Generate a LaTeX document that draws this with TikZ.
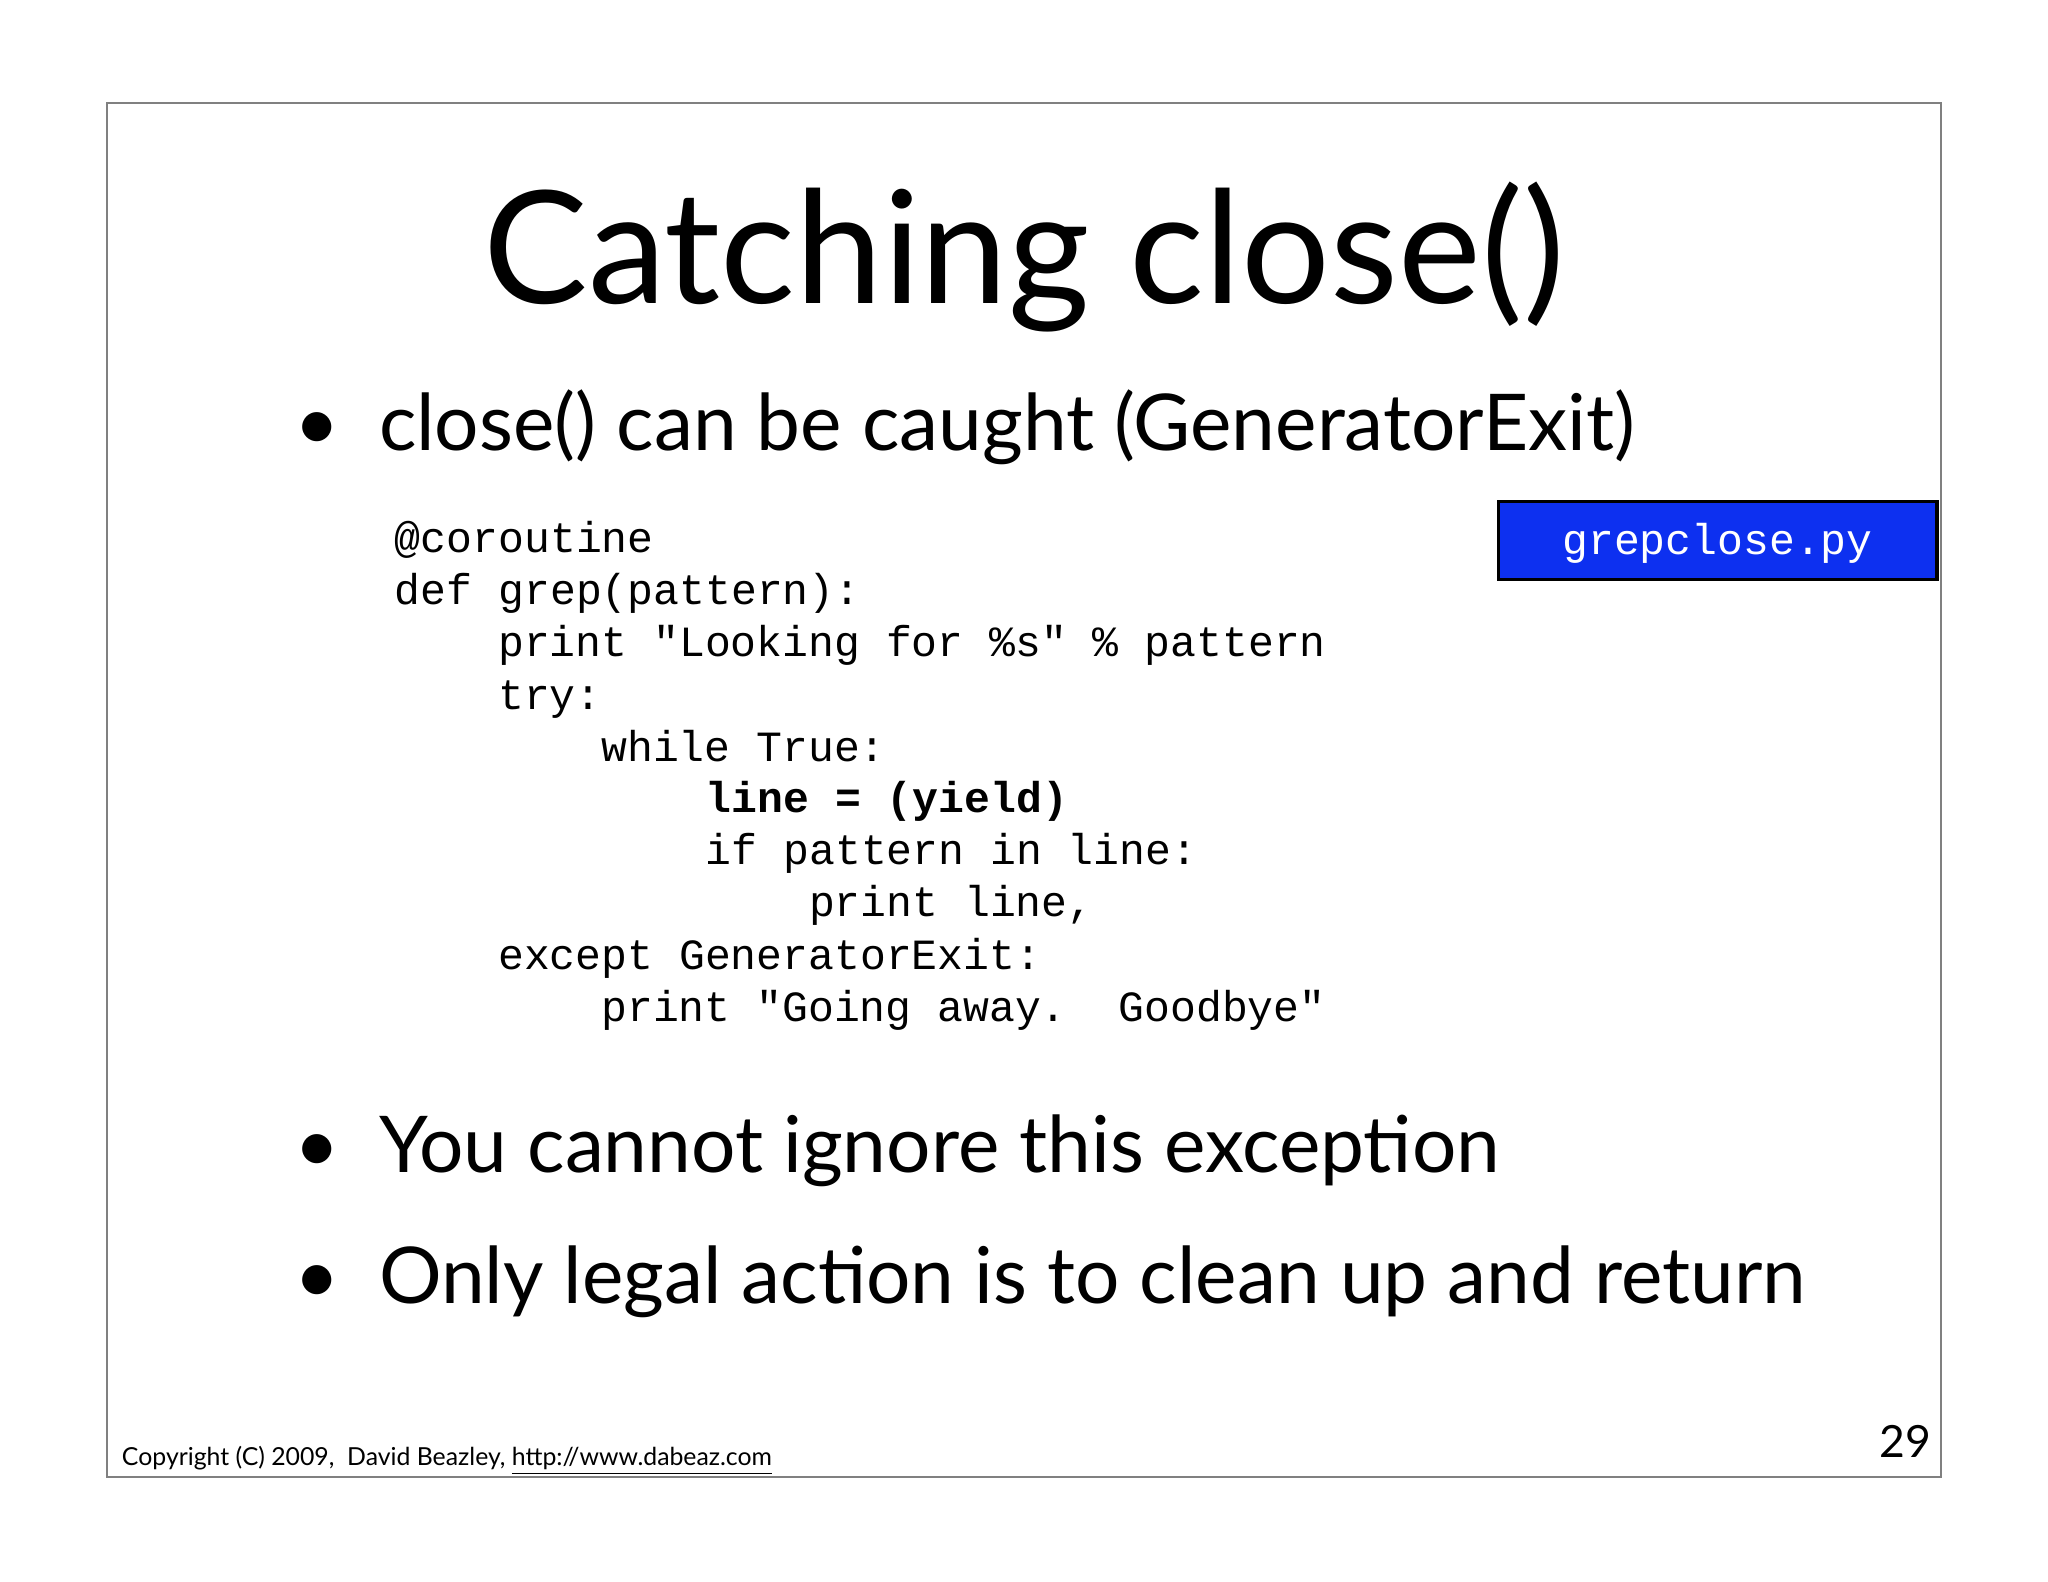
\documentclass[tikz,border=0pt]{standalone}
\usepackage{fontspec}
\setmainfont{Lato}
\setmonofont{Liberation Mono}
\begin{document}
\begin{tikzpicture}[x=0.5pt,y=-0.5pt,
  code/.style={anchor=base west,inner sep=0,font=\fontsize{16.5}{20}\ttfamily},
  bul/.style={anchor=base west,inner sep=0,font=\fontsize{30}{36}\selectfont}]
\useasboundingbox (0,0) rectangle (1568,1211);
\fill[white] (0,0) rectangle (1568,1211);
\draw[gray,line width=0.6pt] (82,79) rectangle (1486,1131);
\node[inner sep=0,anchor=base,font=\fontsize{60}{70}\selectfont] (title) at (784,232) {Catching close()};
\node[bul] (b1) at (225,345) {\textbullet\hspace{0.5em}close() can be caught (GeneratorExit)};
\node[bul] (b2) at (225,898) {\textbullet\hspace{0.5em}You cannot ignore this exception};
\node[bul] (b3) at (225,998) {\textbullet\hspace{0.5em}Only legal action is to clean up and return};
\node[code] (c1) at (302,423) {@coroutine};
\node[code] (c2) at (302,463) {def grep(pattern):};
\node[code] (c3) at (381,503) {print "Looking for \%s" \% pattern};
\node[code] (c4) at (381,543) {try:};
\node[code] (c5) at (460,583) {while True:};
\node[code] (c6) at (540,622) {\textbf{line = (yield)}};
\node[code] (c7) at (540,662) {if pattern in line:};
\node[code] (c8) at (619,702) {print line,};
\node[code] (c9) at (381,742) {except GeneratorExit:};
\node[code] (c10) at (460,782) {print "Going away.~~Goodbye"};
\draw[fill={rgb,255:red,13;green,48;blue,240},line width=1.2pt] (1147,384) rectangle (1483,444);
\node[font=\fontsize{16.5}{20}\ttfamily,text=white] (file) at (1315,416) {grepclose.py};
\node[anchor=base west,inner sep=0,font=\fontsize{9.5}{11}\selectfont] (copy) at (93,1122) {Copyright (C) 2009,\ \ David Beazley, \underline{http://www.dabeaz.com}};
\node[anchor=base east,inner sep=0,font=\fontsize{17}{20}\selectfont] (pg) at (1479,1116) {29};
\end{tikzpicture}
\end{document}
